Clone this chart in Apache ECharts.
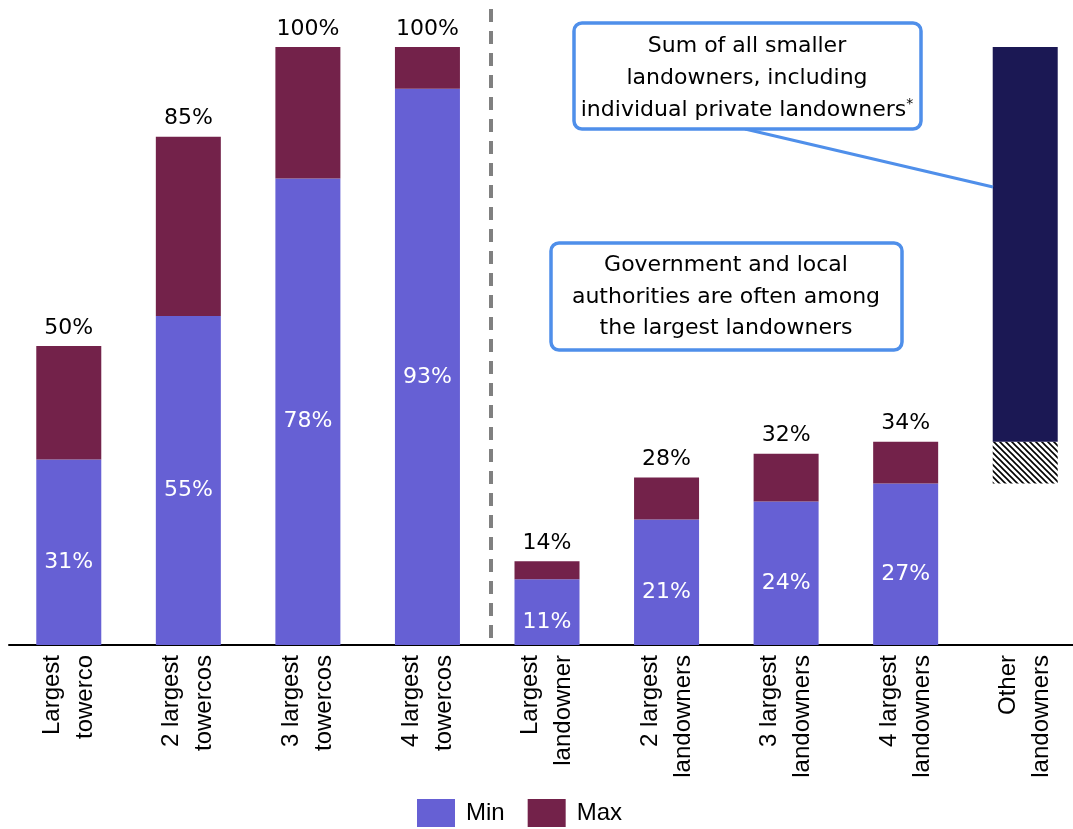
<!DOCTYPE html>
<html><head><meta charset="utf-8">
<script src="https://cdn.jsdelivr.net/npm/echarts@6/dist/echarts.min.js"></script>
<style>html,body{margin:0;padding:0;background:#fff}#c{width:1073px;height:829px}</style>
</head><body><div id="c"></div>
<script>
const categories = ['Largest\ntowerco','2 largest\ntowercos','3 largest\ntowercos','4 largest\ntowercos','Largest\nlandowner','2 largest\nlandowners','3 largest\nlandowners','4 largest\nlandowners','Other\nlandowners'];
const minValues = [31,55,78,93,11,21,24,27,null];
const maxValues = [50,85,100,100,14,28,32,34,null];
const otherMinShare = 66;   // other landowners, min share (%)
const otherMaxShare = 73;   // other landowners, max share (%)
const otherIndex = 8;

const C_MIN = '#6660D4', C_MAX = '#73224A', C_NAVY = '#1B1854', C_BLUE = '#4F8FEA';
const VFONT = 'DejaVu Sans';

function hatch(){
  const c = document.createElement('canvas'); c.width = 6; c.height = 6;
  const g = c.getContext('2d');
  g.fillStyle = '#fff'; g.fillRect(0,0,6,6);
  g.strokeStyle = '#000'; g.lineWidth = 1.6;
  g.beginPath();
  g.moveTo(-1,-1); g.lineTo(7,7);
  g.moveTo(-4,2); g.lineTo(4,10);
  g.moveTo(2,-4); g.lineTo(10,4);
  g.stroke();
  return {image: c, repeat: 'repeat'};
}

const minData = minValues.map(v => v == null ? '-' : v);
const diffData = maxValues.map((v,i) => v == null ? '-' : v - minValues[i]);
const baseData = categories.map((_,i) => i === otherIndex ? 100 - otherMaxShare : '-');
const hatchData = categories.map((_,i) => i === otherIndex ? otherMaxShare - otherMinShare : '-');
const otherData = categories.map((_,i) => i === otherIndex ? otherMinShare : '-');

const chart = echarts.init(document.getElementById('c'));
chart.setOption({
  animation: false,
  grid: {left: 9, top: 47, right: -12, bottom: 184, containLabel: false, outerBoundsMode: 'none'},
  legend: {
    data: ['Min','Max'], top: 799, left: 417,
    itemWidth: 38, itemHeight: 28, itemGap: 23, padding: 0,
    textStyle: {fontFamily: 'Liberation Sans', fontSize: 24, color: '#000', padding: [0,0,0,6]},
    icon: 'rect'
  },
  xAxis: {
    type: 'category', data: categories,
    axisLine: {lineStyle: {color: '#000', width: 2}},
    axisTick: {show: false},
    axisLabel: {rotate: 90, interval: 0, margin: 10, fontFamily: 'Liberation Sans', fontSize: 24, lineHeight: 33, color: '#000', padding: [8,0,0,0]}
  },
  yAxis: {type: 'value', min: 0, max: 100, show: false, splitLine: {show: false}},
  series: [
    {name: 'Min', type: 'bar', stack: 'a', barWidth: 65, data: minData,
     itemStyle: {color: C_MIN},
     label: {show: true, position: 'inside', offset: [0, 10], color: '#fff', fontFamily: VFONT, fontSize: 22,
       formatter: p => p.value + '%'}},
    {name: 'Max', type: 'bar', stack: 'a', barWidth: 65, data: diffData,
     itemStyle: {color: C_MAX},
     label: {show: true, position: 'top', distance: 7, color: '#000', fontFamily: VFONT, fontSize: 22,
       formatter: p => maxValues[p.dataIndex] + '%'}},
    {name: 'base', type: 'bar', stack: 'a', barWidth: 65, data: baseData, itemStyle: {color: 'transparent'}, silent: true},
    {name: 'hatch', type: 'bar', stack: 'a', barWidth: 65, data: hatchData, itemStyle: {color: hatch()}},
    {name: 'other', type: 'bar', stack: 'a', barWidth: 65, data: otherData, itemStyle: {color: C_NAVY}}
  ],
  graphic: [
    {type: 'line', z: 0, shape: {x1: 491, y1: 9, x2: 491, y2: 640}, style: {stroke: '#808080', lineWidth: 4, lineDash: [13, 9]}},
    {type: 'line', z: 50, shape: {x1: 745, y1: 129, x2: 993, y2: 187}, style: {stroke: C_BLUE, lineWidth: 3}},
    {type: 'rect', z: 60, shape: {x: 574, y: 23, width: 347, height: 106, r: 8}, style: {fill: '#fff', stroke: C_BLUE, lineWidth: 3.5}},
    {type: 'text', z: 61, style: {x: 747, y: 78, text: 'Sum of all smaller\nlandowners, including\nindividual private landowners{s|*}',
      rich: {s: {fontSize: 14, fontFamily: VFONT, fill: '#000', padding: [0,0,12,0]}},
      align: 'center', verticalAlign: 'middle', fontFamily: VFONT, fontSize: 22, lineHeight: 32, fill: '#000'}},
    {type: 'rect', z: 60, shape: {x: 551, y: 243, width: 351, height: 107, r: 8}, style: {fill: '#fff', stroke: C_BLUE, lineWidth: 3.5}},
    {type: 'text', z: 61, style: {x: 726, y: 297, text: 'Government and local\nauthorities are often among\nthe largest landowners',
      align: 'center', verticalAlign: 'middle', fontFamily: VFONT, fontSize: 22, lineHeight: 31.5, fill: '#000'}}
  ]
});
</script></body></html>
